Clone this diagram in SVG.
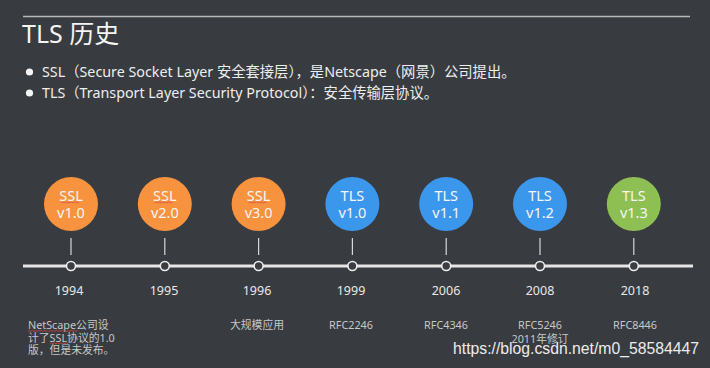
<svg xmlns="http://www.w3.org/2000/svg" width="710" height="368" viewBox="0 0 710 368">
<defs>
<style>
text{font-family:"Noto Sans","Noto Sans CJK SC",sans-serif;}
.title{font-size:25px;fill:#f4f4f4;}
.bul{font-size:14.3px;fill:#eeeeee;}
.ver{font-size:14.5px;fill:#f6f6f6;text-anchor:middle;}
.yr{font-size:12.5px;fill:#e8e8e8;text-anchor:middle;}
.desc{font-size:10.8px;fill:#c8c8c8;}
.c{text-anchor:middle;}
.tick{stroke:#d8d8d8;stroke-width:1.2;}
.dot{fill:#3a3d42;stroke:#eeeeee;stroke-width:1.6;}
.sq{fill:none;stroke:#d84848;stroke-width:0.8;}
.ssl{fill:#f7923f;}
.tls{fill:#3b97eb;}
.tls13{fill:#8dbf53;}
</style>
</defs>
<rect width="710" height="368" fill="#383b40"/>
<line x1="23" y1="16.5" x2="690" y2="16.5" stroke="#b8b8b8" stroke-width="1.5"/>
<text class="title" x="22" y="43">TLS 历史</text>
<circle cx="29.5" cy="72" r="3.6" fill="#f4f4f4"/>
<circle cx="29.5" cy="93" r="3.6" fill="#f4f4f4"/>
<text class="bul" x="42" y="77">SSL（Secure Socket Layer  安全套接层），是Netscape（网景）公司提出。</text>
<text class="bul" x="42" y="98">TLS（Transport Layer Security Protocol）：安全传输层协议。</text>

<g id="connectors">
<line x1="23" y1="266" x2="693" y2="266" stroke="#e6e6e6" stroke-width="3"/>
<line class="tick" x1="71" y1="238" x2="71" y2="255"/>
<line class="tick" x1="164.8" y1="238" x2="164.8" y2="255"/>
<line class="tick" x1="258.6" y1="238" x2="258.6" y2="255"/>
<line class="tick" x1="352.4" y1="238" x2="352.4" y2="255"/>
<line class="tick" x1="446.2" y1="238" x2="446.2" y2="255"/>
<line class="tick" x1="540" y1="238" x2="540" y2="255"/>
<line class="tick" x1="633.8" y1="238" x2="633.8" y2="255"/>
</g>

<g id="ssl10">
<circle class="ssl" cx="71" cy="204" r="27"/>
<text class="ver" x="71" y="200.5">SSL</text>
<text class="ver" x="71" y="218">v1.0</text>
<path class="sq" d="M61 203l1.5-1.2 1.5 1.2 1.5-1.2 1.5 1.2 1.5-1.2 1.5 1.2 1.5-1.2 1.5 1.2 1.5-1.2 1.5 1.2 1.5-1.2 1.5 1.2"/>
<circle class="dot" cx="71" cy="266" r="4.5"/>
<text class="yr" x="69" y="295">1994</text>
<text class="desc" x="28" y="329">NetScape公司设</text>
<text class="desc" x="28" y="341.5">计了SSL协议的1.0</text>
<text class="desc" x="28" y="354">版，但是未发布。</text>
<path class="sq" d="M28 331.5l1.5-1.2 1.5 1.2 1.5-1.2 1.5 1.2 1.5-1.2 1.5 1.2 1.5-1.2 1.5 1.2 1.5-1.2 1.5 1.2 1.5-1.2 1.5 1.2 1.5-1.2 1.5 1.2 1.5-1.2 1.5 1.2 1.5-1.2 1.5 1.2 1.5-1.2 1.5 1.2 1.5-1.2 1.5 1.2 1.5-1.2 1.5 1.2 1.5-1.2 1.5 1.2 1.5-1.2 1.5 1.2 1.5-1.2 1.5 1.2 1.5-1.2 1.5 1.2 1.5-1.2"/>
<path class="sq" d="M50 344l1.5-1.2 1.5 1.2 1.5-1.2 1.5 1.2 1.5-1.2 1.5 1.2 1.5-1.2 1.5 1.2 1.5-1.2 1.5 1.2 1.5-1.2 1.5 1.2"/>
</g>

<g id="ssl20">
<circle class="ssl" cx="164.8" cy="204" r="27"/>
<text class="ver" x="164.8" y="200.5">SSL</text>
<text class="ver" x="164.8" y="218">v2.0</text>
<path class="sq" d="M154.8 203l1.5-1.2 1.5 1.2 1.5-1.2 1.5 1.2 1.5-1.2 1.5 1.2 1.5-1.2 1.5 1.2 1.5-1.2 1.5 1.2 1.5-1.2 1.5 1.2"/>
<circle class="dot" cx="164.8" cy="266" r="4.5"/>
<text class="yr" x="164" y="295">1995</text>
</g>

<g id="ssl30">
<circle class="ssl" cx="258.6" cy="204" r="27"/>
<text class="ver" x="258.6" y="200.5">SSL</text>
<text class="ver" x="258.6" y="218">v3.0</text>
<path class="sq" d="M248.6 203l1.5-1.2 1.5 1.2 1.5-1.2 1.5 1.2 1.5-1.2 1.5 1.2 1.5-1.2 1.5 1.2 1.5-1.2 1.5 1.2 1.5-1.2 1.5 1.2"/>
<circle class="dot" cx="258.6" cy="266" r="4.5"/>
<text class="yr" x="257" y="295">1996</text>
<text class="desc c" x="257" y="329">大规模应用</text>
</g>

<g id="tls10">
<circle class="tls" cx="352.4" cy="204" r="27"/>
<text class="ver" x="352.4" y="200.5">TLS</text>
<text class="ver" x="352.4" y="218">v1.0</text>
<circle class="dot" cx="352.4" cy="266" r="4.5"/>
<text class="yr" x="351" y="295">1999</text>
<text class="desc c" x="351" y="329">RFC2246</text>
</g>

<g id="tls11">
<circle class="tls" cx="446.2" cy="204" r="27"/>
<text class="ver" x="446.2" y="200.5">TLS</text>
<text class="ver" x="446.2" y="218">v1.1</text>
<circle class="dot" cx="446.2" cy="266" r="4.5"/>
<text class="yr" x="446" y="295">2006</text>
<text class="desc c" x="446" y="329">RFC4346</text>
</g>

<g id="tls12">
<circle class="tls" cx="540" cy="204" r="27"/>
<text class="ver" x="540" y="200.5">TLS</text>
<text class="ver" x="540" y="218">v1.2</text>
<circle class="dot" cx="540" cy="266" r="4.5"/>
<text class="yr" x="540" y="295">2008</text>
<text class="desc c" x="540" y="328.5">RFC5246</text>
<text class="desc c" x="540" y="342.5">2011年修订</text>
</g>

<g id="tls13">
<circle class="tls13" cx="633.8" cy="204" r="27"/>
<text class="ver" x="633.8" y="200.5">TLS</text>
<text class="ver" x="633.8" y="218">v1.3</text>
<circle class="dot" cx="633.8" cy="266" r="4.5"/>
<text class="yr" x="635" y="295">2018</text>
<text class="desc c" x="635" y="329">RFC8446</text>
</g>

<text x="453" y="354" style="font-family:'Liberation Sans',Arial,sans-serif" font-size="16" fill="#ececec" textLength="246" lengthAdjust="spacingAndGlyphs">https://blog.csdn.net/m0_58584447</text>
</svg>
